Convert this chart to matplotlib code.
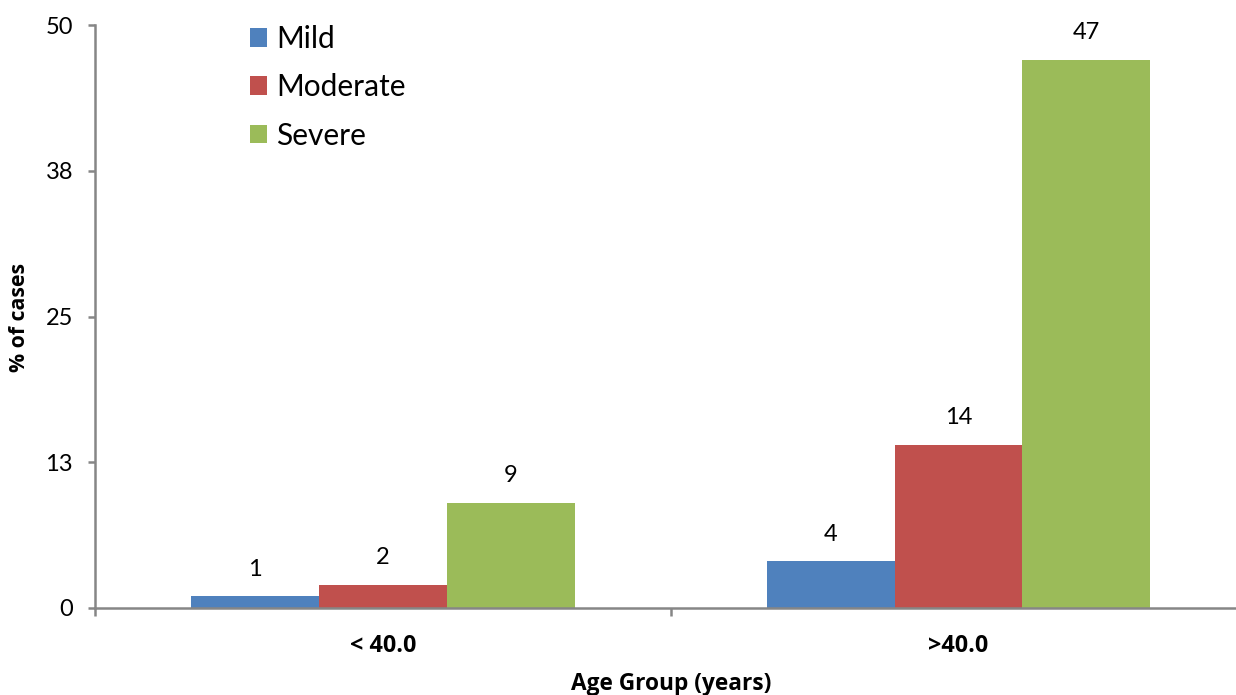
import matplotlib
matplotlib.use("Agg")
import matplotlib.pyplot as plt
import numpy as np

plt.rcParams['font.family'] = ['Lato', 'DejaVu Sans']
BOLD_FAMILY = ['Open Sans', 'DejaVu Sans']

# Data
age_groups = ["< 40.0", ">40.0"]
severity = ["Mild", "Moderate", "Severe"]
mild = [1, 4]
moderate = [2, 14]
severe = [9, 47]
colors = ["#4F81BD", "#C0504D", "#9BBB59"]
ytick_values = [0, 12.5, 25, 37.5, 50]
ytick_labels = ["0", "13", "25", "38", "50"]

fig = plt.figure(figsize=(12.36, 6.95), dpi=100)
ax = fig.add_axes([95.25 / 1236, 1 - 608 / 695, 1151 / 1236, (608 - 25) / 695])

x = np.arange(len(age_groups))
width = 0.2224
series = [mild, moderate, severe]
for i, (name, vals, col) in enumerate(zip(severity, series, colors)):
    pos = x + (i - 1) * width
    bars = ax.bar(pos, vals, width, color=col, label=name, zorder=2)
    for b, v in zip(bars, vals):
        ax.annotate(f"{v}", (b.get_x() + b.get_width() / 2, v),
                    xytext=(0, 19.5), textcoords="offset points",
                    ha="center", va="center", fontsize=17)

ax.set_xlim(-0.5, 1.5)
ax.set_ylim(0, 50)
ax.set_yticks(ytick_values)
ax.set_yticklabels(ytick_labels, fontsize=17)
ax.set_xticks(x)
ax.set_xticklabels(age_groups, fontsize=16.8, fontweight="bold", family=BOLD_FAMILY)
ax.set_xticks([-0.5, 0.5, 1.5], minor=True)

spine_col = "#868686"
for s in ["top", "right"]:
    ax.spines[s].set_visible(False)
for s in ["left", "bottom"]:
    ax.spines[s].set_color(spine_col)
    ax.spines[s].set_linewidth(1.8)

ax.tick_params(axis="y", direction="out", length=5, width=1.8, color=spine_col, pad=11)
ax.tick_params(axis="x", which="major", length=0, pad=19)
ax.tick_params(axis="x", which="minor", direction="out", length=6, width=1.8, color=spine_col)

fig.text(671 / 1236, 1 - 684 / 695, "Age Group (years)", ha="center", va="center",
         fontsize=16.3, fontweight="bold", family=BOLD_FAMILY)
fig.text(20 / 1236, 1 - 317 / 695, "% of cases", ha="center", va="center",
         fontsize=15.3, fontweight="bold", rotation=90, family=BOLD_FAMILY)

leg = ax.legend(loc="upper left", bbox_to_anchor=(250 / 1236, 1 - 25 / 695),
                bbox_transform=fig.transFigure, frameon=False, fontsize=21.5,
                handlelength=0.58, handleheight=0.58, handletextpad=0.3,
                labelspacing=0.68, borderpad=0, borderaxespad=0)

fig.savefig("out.png", dpi=100)
